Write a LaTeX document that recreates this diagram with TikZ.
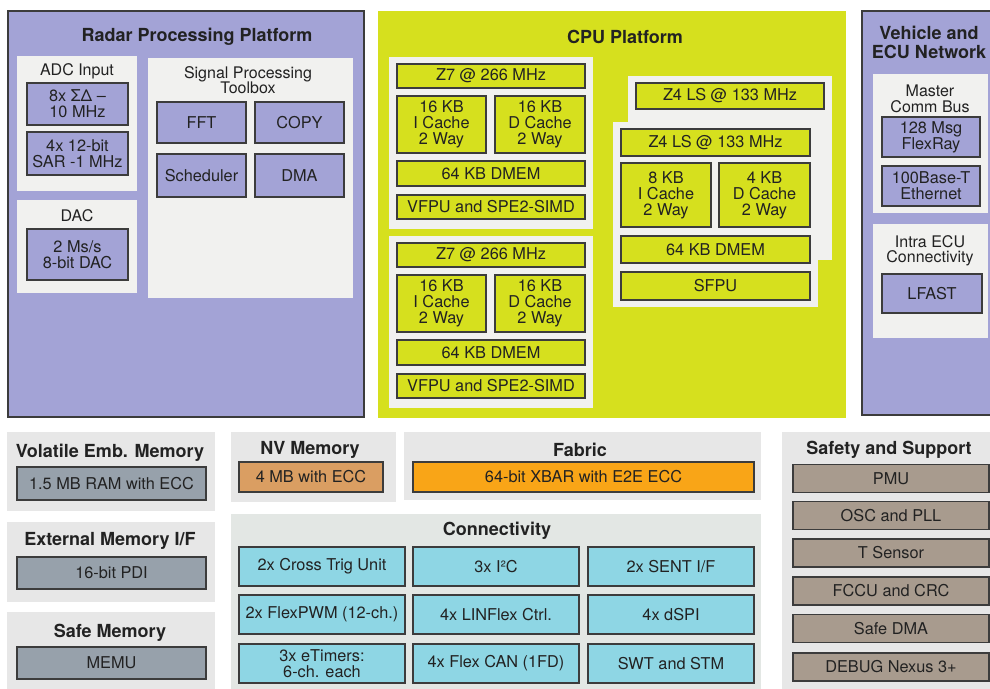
\documentclass[tikz,border=0pt]{standalone}
\usepackage{fontspec}
\setmainfont{TeX Gyre Heros}
\definecolor{lav}{HTML}{A3A3D6}
\definecolor{ygreen}{HTML}{D6E01E}
\definecolor{panel}{HTML}{F1F1EF}
\definecolor{greypanel}{HTML}{E7E7E7}
\definecolor{connpanel}{HTML}{E3E7E4}
\definecolor{memgrey}{HTML}{97A1AB}
\definecolor{nvtan}{HTML}{DA9E62}
\definecolor{xbarorange}{HTML}{F9A517}
\definecolor{cyanbox}{HTML}{8ED6E4}
\definecolor{sbrown}{HTML}{A89B8E}
\definecolor{ink}{HTML}{222222}
\definecolor{edge}{HTML}{3C3C3C}

\begin{document}
\begin{tikzpicture}[x=1pt, y=-1pt, font=\fontsize{16.3}{16}\selectfont, text=ink,
  blk/.style={draw=edge, line width=1.1pt, inner sep=0pt, align=center},
  lavbox/.style={blk, fill=lav},
  cpubox/.style={blk, fill=ygreen},
  membox/.style={blk, fill=memgrey, minimum width=189pt, minimum height=32pt},
  conbox/.style={blk, fill=cyanbox, minimum width=166pt, minimum height=39pt},
  supbox/.style={blk, fill=sbrown, minimum width=196pt, minimum height=28pt},
  ptitle/.style={font=\fontsize{18}{19}\selectfont\bfseries, align=center, yshift=-1.5pt},
  sub/.style={align=center, font=\fontsize{16}{15.5}\selectfont, yshift=-1pt},
  wide/.style={minimum width=188pt, minimum height=25pt},
  cache/.style={minimum width=89pt, minimum height=57pt},
  outline/.style={draw=edge, line width=1.1pt}]

\useasboundingbox (0,0) rectangle (990,688);

% radar processing platform
\draw[outline, fill=lav] (8,11) rectangle (364,417);
\node (radar) at (197,35)[ptitle] {Radar Processing Platform};
\fill[panel] (17,56) rectangle (137,191);
\node (adc) at (77,70)[sub] {ADC Input};
\node (sd) at (77.5,104)[lavbox, minimum width=101pt, minimum height=42pt] {8x ΣΔ \textendash\\10 MHz};
\node (sar) at (77.5,153.5)[lavbox, minimum width=101pt, minimum height=43pt] {4x 12-bit\\SAR -1 MHz};
\fill[panel] (17,200) rectangle (137,293);
\node (dac) at (77,215)[sub] {DAC};
\node (dacbox) at (77.5,254.5)[lavbox, minimum width=101pt, minimum height=51pt] {2 Ms/s\\8-bit DAC};
\fill[panel] (148,58) rectangle (353,298);
\node (spt) at (248,79)[sub] {Signal Processing\\Toolbox};
\node (fft) at (201.5,122.5)[lavbox, minimum width=89pt, minimum height=41pt] {FFT};
\node (copy) at (299.5,122.5)[lavbox, minimum width=89pt, minimum height=41pt] {COPY};
\node (sched) at (201.5,175.5)[lavbox, minimum width=89pt, minimum height=43pt] {Scheduler};
\node (dma) at (299.5,175.5)[lavbox, minimum width=89pt, minimum height=43pt] {DMA};

% cpu platform
\fill[ygreen] (378,11) rectangle (846,418);
\node (cpu) at (625,35)[ptitle] {CPU Platform};
\foreach \dy/\n in {0/a, 179/b}{
  \fill[panel] (389,57+\dy) rectangle (593,229+\dy);
  \node (z7\n) at (491,76+\dy)[cpubox, wide, minimum height=24pt] {Z7 @ 266 MHz};
  \node (ic\n) at (441.5,124.5+\dy)[cpubox, cache] {16 KB\\I Cache\\2 Way};
  \node (dc\n) at (540,124.5+\dy)[cpubox, cache, minimum width=90pt] {16 KB\\D Cache\\2 Way};
  \node (dmem\n) at (491,173.5+\dy)[cpubox, wide] {64 KB DMEM};
  \node (vfpu\n) at (491,207+\dy)[cpubox, wide, minimum height=24pt] {VFPU and SPE2-SIMD};
}
\fill[panel] (628,76) rectangle (832,260);
\node (z4back) at (730,96)[cpubox, wide, minimum height=26pt] {Z4 LS @ 133 MHz};
\fill[panel] (613,122) rectangle (818,307);
\node (z4) at (715.5,142.5)[cpubox, wide, minimum width=189pt, minimum height=27pt] {Z4 LS @ 133 MHz};
\node (icz) at (666,195)[cpubox, minimum width=90pt, minimum height=64pt] {8 KB\\I Cache\\2 Way};
\node (dcz) at (764.5,195)[cpubox, minimum width=91pt, minimum height=64pt] {4 KB\\D Cache\\2 Way};
\node (dmemz) at (715.5,249.5)[cpubox, wide, minimum width=189pt, minimum height=27pt] {64 KB DMEM};
\node (sfpu) at (715.5,286)[cpubox, wide, minimum width=189pt, minimum height=28pt] {SFPU};

% vehicle and ecu network
\draw[outline, fill=lav] (862,11) rectangle (996,415);
\node (veh) at (929,41)[ptitle] {Vehicle and\\ECU Network};
\fill[panel] (873,74) rectangle (988,213);
\node (mcb) at (930,98)[sub] {Master\\Comm Bus};
\node (flexray) at (931,137)[lavbox, minimum width=98pt, minimum height=40pt] {128 Msg\\FlexRay};
\node (eth) at (931,186)[lavbox, minimum width=98pt, minimum height=40pt] {100Base-T\\Ethernet};
\fill[panel] (873,224) rectangle (988,338);
\node (iec) at (930,250)[sub] {Intra ECU\\Connectivity};
\node (lfast) at (932,293.5)[lavbox, minimum width=100pt, minimum height=39pt] {LFAST};

% memories
\fill[greypanel] (7,432) rectangle (215,511);
\node (vol) at (110,451)[ptitle] {Volatile Emb. Memory};
\node (ram) at (111.5,483.5)[membox, minimum height=33pt] {1.5 MB RAM with ECC};
\fill[greypanel] (7,522) rectangle (215,602);
\node (ext) at (110,539)[ptitle] {External Memory I/F};
\node (pdi) at (111.5,573)[membox] {16-bit PDI};
\fill[greypanel] (7,612) rectangle (215,692);
\node (safe) at (110,631)[ptitle] {Safe Memory};
\node (memu) at (111.5,663)[membox] {MEMU};
\fill[greypanel] (231,432) rectangle (396,502);
\node (nv) at (310,448)[ptitle] {NV Memory};
\node (nvbox) at (311,477)[blk, fill=nvtan, minimum width=144pt, minimum height=30pt] {4 MB with ECC};

% fabric
\fill[greypanel] (404,432) rectangle (761,500);
\node (fabric) at (580,448)[ptitle] {Fabric};
\node (xbar) at (583.5,477)[blk, fill=xbarorange, minimum width=341pt, minimum height=30pt] {64-bit XBAR with E2E ECC};

% connectivity
\fill[connpanel] (231,514) rectangle (761,692);
\node (conn) at (497,529)[ptitle] {Connectivity};
\node (ctu) at (322,566.5)[conbox] {2x Cross Trig Unit};
\node (i2c) at (496,566.5)[conbox] {3x I²C};
\node (sent) at (671,566.5)[conbox] {2x SENT I/F};
\node (pwm) at (322,614.5)[conbox] {2x FlexPWM (12-ch.)};
\node (lin) at (496,614.5)[conbox] {4x LINFlex Ctrl.};
\node (dspi) at (671,614.5)[conbox] {4x dSPI};
\node (etim) at (322,663.5)[conbox] {3x eTimers:\\6-ch. each};
\node (can) at (496,663.5)[conbox] {4x Flex CAN (1FD)};
\node (swt) at (671,663.5)[conbox] {SWT and STM};

% safety and support
\fill[greypanel] (782,432) rectangle (996,692);
\node (safety) at (889,448)[ptitle] {Safety and Support};
\foreach \y/\n/\t in {478.5/pmu/PMU, 515.5/osc/OSC and PLL, 553/tsens/T Sensor,
    591/fccu/FCCU and CRC, 628.5/sdma/Safe DMA, 667/debug/DEBUG Nexus 3+}
  \node (\n) at (891,\y)[supbox] {\t};
\end{tikzpicture}
\end{document}
